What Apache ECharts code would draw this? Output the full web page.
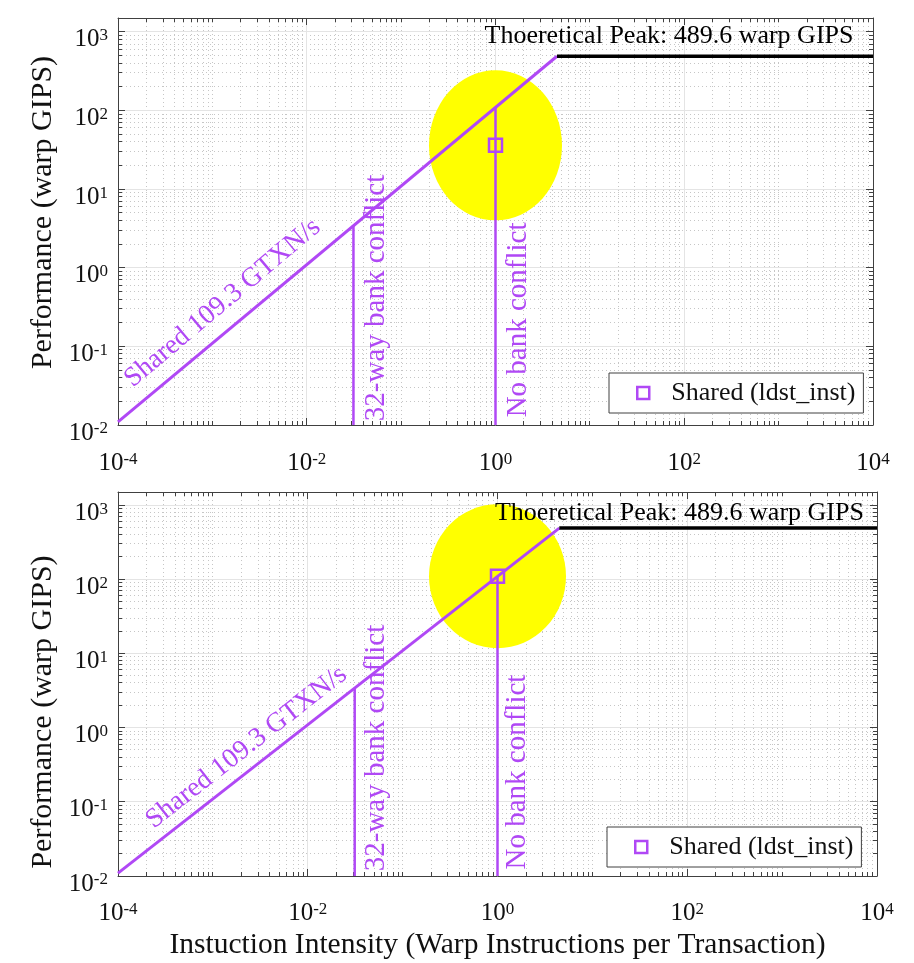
<!DOCTYPE html>
<html>
<head>
<meta charset="utf-8">
<script src="https://cdn.jsdelivr.net/npm/echarts@6/dist/echarts.min.js"></script>
<style>
  html, body { margin: 0; padding: 0; background: #fff; }
  #chart { width: 914px; height: 963px; }
</style>
</head>
<body>
<div id="chart"></div>
<script>
// ---- Roofline data (shared-memory transactions) ----
const intensityRange = [1e-4, 1e4];          // warp instructions per transaction
const performanceRange = [0.01, 1500];       // warp GIPS
const sharedBandwidth = 109.3;               // GTXN/s
const theoreticalPeak = 489.6;               // warp GIPS
const conflictIntensity = [1 / 32, 1];       // 32-way conflict, no conflict
const conflictLabels = ['32-way bank conflict', 'No bank conflict'];
const kernelName = 'Shared (ldst_inst)';
const kernelIntensity = [1, 1];              // one kernel point per panel
const kernelPerformance = [36, 110];
const peakLabel = 'Thoeretical Peak: ' + theoreticalPeak + ' warp GIPS';
const bandwidthLabel = 'Shared ' + sharedBandwidth + ' GTXN/s';
const xTitle = 'Instuction Intensity (Warp Instructions per Transaction)';
const yTitle = 'Performance (warp GIPS)';

// ---- Styling ----
const FONT = 'Liberation Serif';
const PURPLE = 'rgb(176,72,245)';
const YELLOW = '#ffff00';
const AXIS_COLOR = '#404040';

// ---- Per-panel layout ----
const panels = [
  {
    grid: { left: 118, top: 18, width: 755, height: 407 },
    highlight: [133, 150],
    bandwidthAt: [1.285e-3, 0.356], bandwidthRotate: 40,
    conflictAt: [[0.0550, 0.413], [1.757, 0.217]],
    peakAt: [6210, 889],
    legend: { left: 609, top: 373 },
    xName: '', xLabelMargin: 26, yNamePadding: [0, 0, 0, 18]
  },
  {
    grid: { left: 118, top: 492, width: 759, height: 384 },
    highlight: [137, 144],
    bandwidthAt: [2.26e-3, 0.543], bandwidthRotate: 38,
    conflictAt: [[0.0535, 0.531], [1.637, 0.252]],
    peakAt: [7280, 780],
    legend: { left: 607, top: 827 },
    xName: xTitle, xLabelMargin: 25, yNamePadding: [0, 56, 0, 0]
  }
];

// Log-axis tick positions (decades and 2..9 subdivisions)
function decades(lo, hi) {
  const out = [];
  for (let e = Math.round(Math.log10(lo)); e <= Math.round(Math.log10(hi)); e++) out.push(Math.pow(10, e));
  return out;
}
function subdivisions(lo, hi) {
  const out = [];
  decades(lo, hi).forEach(function (d) {
    for (let m = 2; m <= 9; m++) if (m * d < hi) out.push(m * d);
  });
  return out;
}
const xDecades = decades(intensityRange[0], intensityRange[1]);
const xMajor = xDecades.filter(function (d) { return Math.round(Math.log10(d)) % 2 === 0; });
const xMinor = subdivisions(intensityRange[0], intensityRange[1])
  .concat(xDecades.filter(function (d) { return Math.round(Math.log10(d)) % 2 !== 0; }));
const yMajor = decades(performanceRange[0], 1000);
const yMinor = subdivisions(performanceRange[0], performanceRange[1]);

const minorGridStyle = { stroke: '#c6c6c6', lineWidth: 1, lineDash: [1, 3], fill: null };
const majorGridStyle = { stroke: '#e4e4e4', lineWidth: 1, fill: null };
const tickStyle = { stroke: AXIS_COLOR, lineWidth: 1, fill: null };

function frameRenderer(params, api) {
  const c0 = api.coord([intensityRange[0], performanceRange[0]]);
  const c1 = api.coord([intensityRange[1], performanceRange[1]]);
  const L = c0[0], B = c0[1], R = c1[0], T = c1[1];
  const snap = function (v) { return Math.round(v - 0.5) + 0.5; };
  const minor = [], major = [], ticks = [];
  const seg = function (arr, x1, y1, x2, y2, style) {
    arr.push({ type: 'line', silent: true, shape: { x1: x1, y1: y1, x2: x2, y2: y2 }, style: style });
  };
  xMinor.forEach(function (v) {
    const x = snap(api.coord([v, performanceRange[0]])[0]);
    seg(minor, x, T, x, B, minorGridStyle);
    seg(ticks, x, B, x, B - 4, tickStyle);
    seg(ticks, x, T, x, T + 4, tickStyle);
  });
  xMajor.forEach(function (v) {
    const x = snap(api.coord([v, performanceRange[0]])[0]);
    if (v > intensityRange[0] && v < intensityRange[1]) seg(major, x, T, x, B, majorGridStyle);
    seg(ticks, x, B, x, B - 7, tickStyle);
    seg(ticks, x, T, x, T + 7, tickStyle);
  });
  yMinor.forEach(function (v) {
    const y = snap(api.coord([intensityRange[0], v])[1]);
    seg(minor, L, y, R, y, minorGridStyle);
    seg(ticks, L, y, L + 4, y, tickStyle);
    seg(ticks, R, y, R - 4, y, tickStyle);
  });
  yMajor.forEach(function (v) {
    const y = snap(api.coord([intensityRange[0], v])[1]);
    if (v > performanceRange[0]) seg(major, L, y, R, y, majorGridStyle);
    seg(ticks, L, y, L + 7, y, tickStyle);
    seg(ticks, R, y, R - 7, y, tickStyle);
  });
  return { type: 'group', children: minor.concat(major, ticks) };
}

function powerLabel(v, evenOnly) {
  const lg = Math.log10(v);
  const e = Math.round(lg);
  if (Math.abs(lg - e) > 1e-6) return '';
  if (evenOnly && e % 2 !== 0) return '';
  return '{b|10}{s|' + e + '}';
}
const powerRich = {
  b: { fontFamily: FONT, fontSize: 25, lineHeight: 25, color: '#111', padding: [2, 0, 0, 0], verticalAlign: 'bottom' },
  s: { fontFamily: FONT, fontSize: 17, lineHeight: 17, color: '#111', verticalAlign: 'top' }
};

const grids = [], xAxes = [], yAxes = [], series = [], legends = [];

panels.forEach(function (p, i) {
  grids.push(Object.assign({ containLabel: false }, p.grid));
  const axisLine = { show: true, lineStyle: { color: AXIS_COLOR, width: 1 } };
  // bottom & top x axes
  xAxes.push({
    type: 'log', logBase: 10, gridIndex: i, position: 'bottom',
    min: intensityRange[0], max: intensityRange[1],
    axisLine: axisLine, axisTick: { show: false }, splitLine: { show: false },
    axisLabel: {
      show: true, margin: p.xLabelMargin, showMinLabel: true, showMaxLabel: true,
      formatter: function (v) { return powerLabel(v, true); }, rich: powerRich
    },
    name: p.xName, nameLocation: 'middle', nameGap: 54,
    nameTextStyle: { fontFamily: FONT, fontSize: 29.5, color: '#111' }
  });
  xAxes.push({
    type: 'log', logBase: 10, gridIndex: i, position: 'top',
    min: intensityRange[0], max: intensityRange[1],
    axisLine: axisLine, axisTick: { show: false }, splitLine: { show: false }, axisLabel: { show: false }
  });
  // left & right y axes
  yAxes.push({
    type: 'log', logBase: 10, gridIndex: i, position: 'left',
    min: performanceRange[0], max: performanceRange[1],
    axisLine: axisLine, axisTick: { show: false }, splitLine: { show: false },
    axisLabel: {
      show: true, margin: 10, showMinLabel: true, showMaxLabel: false, padding: [16, 0, 0, 0],
      formatter: function (v) { return powerLabel(v, false); }, rich: powerRich
    },
    name: yTitle, nameLocation: 'middle', nameGap: 58,
    nameTextStyle: { fontFamily: FONT, fontSize: 30, color: '#111', padding: p.yNamePadding }
  });
  yAxes.push({
    type: 'log', logBase: 10, gridIndex: i, position: 'right',
    min: performanceRange[0], max: performanceRange[1],
    axisLine: axisLine, axisTick: { show: false }, splitLine: { show: false }, axisLabel: { show: false }
  });

  const xi = i * 2, yi = i * 2;
  const ridge = theoreticalPeak / sharedBandwidth;

  // grid lines and ticks
  series.push({
    type: 'custom', xAxisIndex: xi, yAxisIndex: yi, silent: true, clip: false,
    data: [[1, 1]], renderItem: frameRenderer, z: 1
  });
  // highlight around the measured kernel
  series.push({
    type: 'scatter', xAxisIndex: xi, yAxisIndex: yi, silent: true, z: 2,
    symbol: 'circle', symbolSize: p.highlight,
    itemStyle: { color: YELLOW, opacity: 1 },
    data: [[kernelIntensity[i], kernelPerformance[i]]]
  });
  // bandwidth roof
  series.push({
    type: 'line', xAxisIndex: xi, yAxisIndex: yi, silent: true, z: 3, symbol: 'none',
    lineStyle: { color: PURPLE, width: 3 },
    data: [[intensityRange[0], sharedBandwidth * intensityRange[0]], [ridge, theoreticalPeak]]
  });
  // compute roof
  series.push({
    type: 'line', xAxisIndex: xi, yAxisIndex: yi, silent: true, z: 3, symbol: 'none',
    lineStyle: { color: '#000', width: 3.5 },
    data: [[ridge, theoreticalPeak], [intensityRange[1], theoreticalPeak]]
  });
  // bank-conflict walls
  conflictIntensity.forEach(function (ci) {
    series.push({
      type: 'line', xAxisIndex: xi, yAxisIndex: yi, silent: true, z: 3, symbol: 'none',
      lineStyle: { color: PURPLE, width: 2.5 },
      data: [[ci, performanceRange[0]], [ci, sharedBandwidth * ci]]
    });
  });
  // measured kernel
  series.push({
    name: kernelName, type: 'scatter', xAxisIndex: xi, yAxisIndex: yi, z: 5,
    symbol: 'rect', symbolSize: 13,
    itemStyle: { color: 'rgba(255,255,255,0)', borderColor: PURPLE, borderWidth: 2.5, opacity: 1 },
    data: [[kernelIntensity[i], kernelPerformance[i]]]
  });
  // text annotations
  const notes = [];
  notes.push({ value: p.bandwidthAt, label: { formatter: bandwidthLabel, rotate: p.bandwidthRotate, color: PURPLE, fontSize: 27.5 } });
  conflictLabels.forEach(function (t, k) {
    notes.push({ value: p.conflictAt[k], label: { formatter: t, rotate: 90, color: PURPLE, fontSize: 29 } });
  });
  notes.push({ value: p.peakAt, label: { formatter: peakLabel, rotate: 0, color: '#000', fontSize: 26, align: 'right' } });
  series.push({
    type: 'scatter', xAxisIndex: xi, yAxisIndex: yi, silent: true, z: 6,
    symbolSize: 1, itemStyle: { color: 'rgba(255,255,255,0)', opacity: 1 },
    label: { show: true, position: 'inside', align: 'center', verticalAlign: 'middle', fontFamily: FONT },
    data: notes
  });

  legends.push({
    data: [kernelName], left: p.legend.left, top: p.legend.top, orient: 'vertical',
    backgroundColor: '#fff', borderColor: AXIS_COLOR, borderWidth: 1, borderRadius: 0,
    padding: [7, 8, 7, 27], itemWidth: 12, itemHeight: 12, selectedMode: false,
    itemStyle: { color: 'rgba(255,255,255,0)', borderColor: PURPLE, borderWidth: 2.5, opacity: 1 },
    textStyle: { fontFamily: FONT, fontSize: 26, lineHeight: 26, color: '#111', padding: [0, 0, 0, 17] }
  });
});

const chart = echarts.init(document.getElementById('chart'), null, { renderer: 'canvas' });
chart.setOption({
  backgroundColor: '#fff',
  animation: false,
  grid: grids,
  xAxis: xAxes,
  yAxis: yAxes,
  legend: legends,
  series: series
});
</script>
</body>
</html>
